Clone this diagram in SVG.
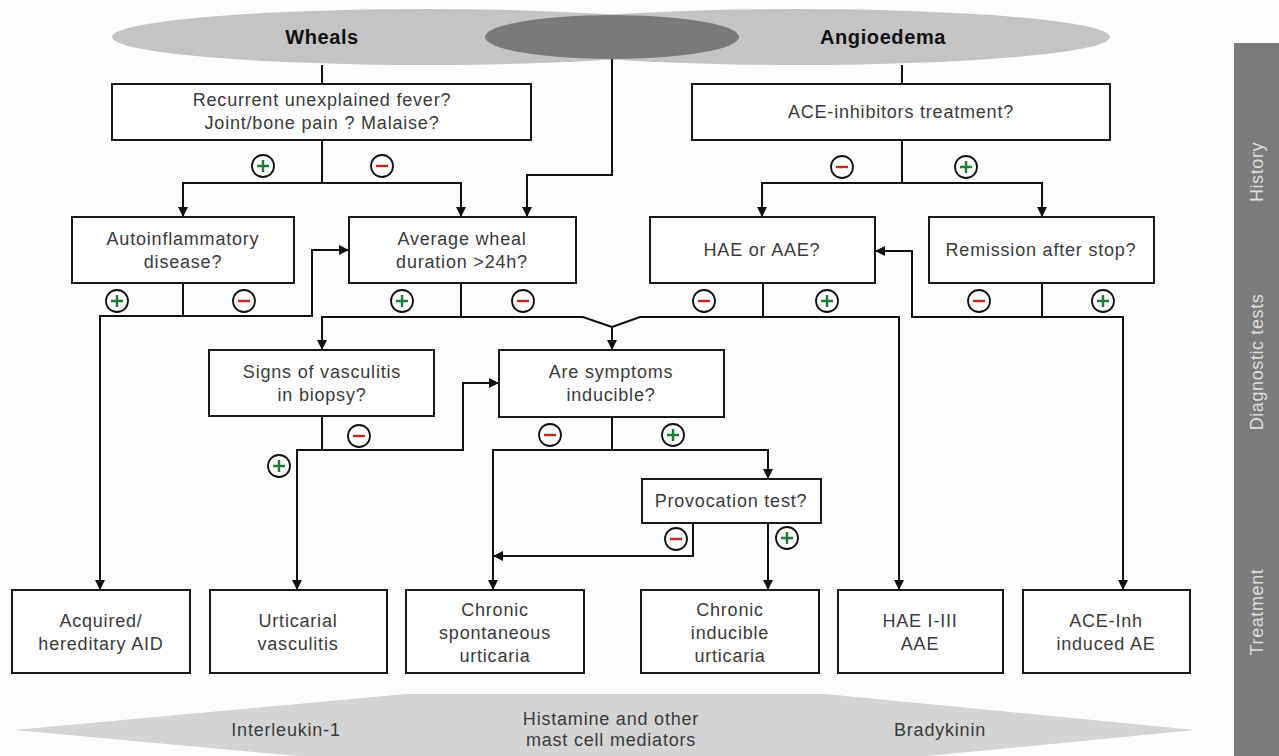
<svg xmlns="http://www.w3.org/2000/svg" width="1279" height="756" viewBox="0 0 1279 756">
<defs>
<marker id="ah" viewBox="0 0 10 10" refX="10" refY="5" markerWidth="10" markerHeight="10" markerUnits="userSpaceOnUse" orient="auto">
<path d="M0,0 L10,5 L0,10 Z" fill="#111"/>
</marker>
</defs>
<style>
.box{fill:#fff;stroke:#1a1a1a;stroke-width:2}
.t{font-family:"Liberation Sans",Arial,sans-serif;font-size:18px;fill:#3a3a3a;text-anchor:middle;letter-spacing:0.8px}
.h{font-family:"Liberation Sans",Arial,sans-serif;font-size:20px;font-weight:bold;fill:#111;text-anchor:middle;letter-spacing:0.6px}
.s{font-family:"Liberation Sans",Arial,sans-serif;font-size:18px;fill:#dcdcdc;text-anchor:middle;letter-spacing:0.6px}
.c{fill:none;stroke:#111;stroke-width:2}
.ca{fill:none;stroke:#111;stroke-width:2;marker-end:url(#ah)}
.pc{fill:#fff;stroke:#111;stroke-width:1.8}
.plus{stroke:#1f7a3a;stroke-width:2.4}
.minus{stroke:#c0281e;stroke-width:2.4}
</style>
<rect width="1279" height="756" fill="#fdfdfd"/>

<g id="top-ellipses">
<ellipse cx="426" cy="37" rx="314" ry="28" fill="#c4c4c4"/>
<ellipse cx="797" cy="37" rx="313" ry="28" fill="#c4c4c4"/>
<ellipse cx="612" cy="37" rx="127" ry="22" fill="#7a7a7a"/>
<text class="h" x="322" y="44">Wheals</text>
<text class="h" x="883" y="44">Angioedema</text>
</g>

<g id="sidebar">
<rect x="1234" y="43" width="45" height="713" fill="#7b7b7b"/>
<text class="s" transform="translate(1263,172) rotate(-90)">History</text>
<text class="s" transform="translate(1263,362) rotate(-90)">Diagnostic tests</text>
<text class="s" transform="translate(1263,612) rotate(-90)">Treatment</text>
</g>

<g id="band">
<polygon points="14,730 406,694 825,694 1195,730 825,766 406,766" fill="#d4d4d4"/>
<text class="t" x="286" y="736">Interleukin-1</text>
<text class="t" x="611" y="725">Histamine and other</text>
<text class="t" x="611" y="746">mast cell mediators</text>
<text class="t" x="940" y="736">Bradykinin</text>
</g>

<g id="connectors">
<path class="c" d="M322,65 V84"/>
<path class="ca" d="M612,59 V175 H527 V217"/>
<path class="c" d="M902,65 V84"/>
<path class="ca" d="M322,140 V183 H183 V217"/>
<path class="ca" d="M322,183 H461 V217"/>
<path class="ca" d="M902,140 V183 H762 V217"/>
<path class="ca" d="M902,183 H1042 V217"/>
<path class="ca" d="M183,283 V316 H100 V590"/>
<path class="ca" d="M183,316 H312 V250 H349"/>
<path class="ca" d="M461,283 V317 H322 V350"/>
<path class="ca" d="M461,317 H583 L612,327 V350"/>
<path class="c" d="M763,283 V317 H640 L612,327"/>
<path class="ca" d="M763,317 H899 V590"/>
<path class="ca" d="M1042,283 V317 H912 V251 H875"/>
<path class="ca" d="M1042,317 H1123 V590"/>
<path class="ca" d="M322,416 V450 H297 V590"/>
<path class="ca" d="M322,450 H463 V383 H499"/>
<path class="ca" d="M612,417 V450 H493 V590"/>
<path class="ca" d="M612,450 H768 V479"/>
<path class="ca" d="M693,523 V556 H493"/>
<path class="ca" d="M768,523 V590"/>
</g>

<g id="signs">
<g id="p1"><circle class="pc" cx="263" cy="166" r="11"/><path class="plus" d="M257,166 H269 M263,160 V172"/></g>
<g id="m1"><circle class="pc" cx="382" cy="166" r="11"/><path class="minus" d="M376,166 H388"/></g>
<g id="m2"><circle class="pc" cx="842" cy="167" r="11"/><path class="minus" d="M836,167 H848"/></g>
<g id="p2"><circle class="pc" cx="966" cy="167" r="11"/><path class="plus" d="M960,167 H972 M966,161 V173"/></g>
<g id="p3"><circle class="pc" cx="117" cy="301" r="11"/><path class="plus" d="M111,301 H123 M117,295 V307"/></g>
<g id="m3"><circle class="pc" cx="244" cy="301" r="11"/><path class="minus" d="M238,301 H250"/></g>
<g id="p4"><circle class="pc" cx="402" cy="301" r="11"/><path class="plus" d="M396,301 H408 M402,295 V307"/></g>
<g id="m4"><circle class="pc" cx="523" cy="301" r="11"/><path class="minus" d="M517,301 H529"/></g>
<g id="m5"><circle class="pc" cx="704" cy="301" r="11"/><path class="minus" d="M698,301 H710"/></g>
<g id="p5"><circle class="pc" cx="827" cy="301" r="11"/><path class="plus" d="M821,301 H833 M827,295 V307"/></g>
<g id="m6"><circle class="pc" cx="979" cy="301" r="11"/><path class="minus" d="M973,301 H985"/></g>
<g id="p6"><circle class="pc" cx="1103" cy="301" r="11"/><path class="plus" d="M1097,301 H1109 M1103,295 V307"/></g>
<g id="m7"><circle class="pc" cx="359" cy="436" r="11"/><path class="minus" d="M353,436 H365"/></g>
<g id="p7"><circle class="pc" cx="279" cy="466" r="11"/><path class="plus" d="M273,466 H285 M279,460 V472"/></g>
<g id="m8"><circle class="pc" cx="550" cy="435" r="11"/><path class="minus" d="M544,435 H556"/></g>
<g id="p8"><circle class="pc" cx="673" cy="435" r="11"/><path class="plus" d="M667,435 H679 M673,429 V441"/></g>
<g id="m9"><circle class="pc" cx="676" cy="539" r="11"/><path class="minus" d="M670,539 H682"/></g>
<g id="p9"><circle class="pc" cx="787" cy="538" r="11"/><path class="plus" d="M781,538 H793 M787,532 V544"/></g>
</g>

<g id="n-fever"><rect class="box" x="112" y="84" width="419" height="56"/>
<text class="t" x="322" y="106">Recurrent unexplained fever?</text>
<text class="t" x="322" y="129">Joint/bone pain ? Malaise?</text></g>
<g id="n-ace"><rect class="box" x="692" y="84" width="418" height="56"/>
<text class="t" x="901" y="118">ACE-inhibitors treatment?</text></g>
<g id="n-autoinf"><rect class="box" x="72" y="217" width="222" height="66"/>
<text class="t" x="183" y="245">Autoinflammatory</text>
<text class="t" x="183" y="268">disease?</text></g>
<g id="n-avg"><rect class="box" x="349" y="217" width="227" height="66"/>
<text class="t" x="462" y="245">Average wheal</text>
<text class="t" x="462" y="268">duration &gt;24h?</text></g>
<g id="n-haeaae"><rect class="box" x="650" y="217" width="225" height="66"/>
<text class="t" x="762" y="256">HAE or AAE?</text></g>
<g id="n-remission"><rect class="box" x="929" y="217" width="225" height="66"/>
<text class="t" x="1041" y="256">Remission after stop?</text></g>
<g id="n-vasc"><rect class="box" x="209" y="350" width="225" height="66"/>
<text class="t" x="322" y="378">Signs of vasculitis</text>
<text class="t" x="322" y="401">in biopsy?</text></g>
<g id="n-induc"><rect class="box" x="499" y="350" width="225" height="67"/>
<text class="t" x="611" y="378">Are symptoms</text>
<text class="t" x="611" y="401">inducible?</text></g>
<g id="n-provoc"><rect class="box" x="642" y="479" width="179" height="44"/>
<text class="t" x="731" y="507">Provocation test?</text></g>
<g id="n-aid"><rect class="box" x="12" y="590" width="178" height="83"/>
<text class="t" x="101" y="627">Acquired/</text>
<text class="t" x="101" y="650">hereditary AID</text></g>
<g id="n-uv"><rect class="box" x="210" y="590" width="177" height="83"/>
<text class="t" x="298" y="627">Urticarial</text>
<text class="t" x="298" y="650">vasculitis</text></g>
<g id="n-csu"><rect class="box" x="406" y="590" width="178" height="83"/>
<text class="t" x="495" y="616">Chronic</text>
<text class="t" x="495" y="639">spontaneous</text>
<text class="t" x="495" y="662">urticaria</text></g>
<g id="n-cindu"><rect class="box" x="641" y="590" width="178" height="83"/>
<text class="t" x="730" y="616">Chronic</text>
<text class="t" x="730" y="639">inducible</text>
<text class="t" x="730" y="662">urticaria</text></g>
<g id="n-hae"><rect class="box" x="838" y="590" width="165" height="83"/>
<text class="t" x="920" y="627">HAE I-III</text>
<text class="t" x="920" y="650">AAE</text></g>
<g id="n-aceinh"><rect class="box" x="1023" y="590" width="167" height="83"/>
<text class="t" x="1106" y="627">ACE-Inh</text>
<text class="t" x="1106" y="650">induced AE</text></g>
</svg>
